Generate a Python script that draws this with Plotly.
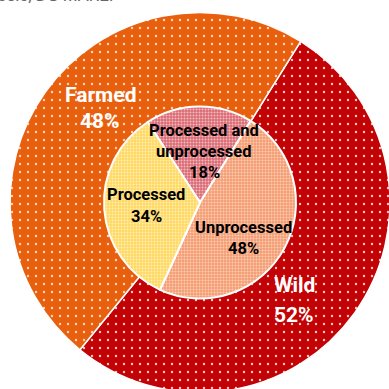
import plotly.graph_objects as go

# Data
outer_labels = ["Wild", "Farmed"]
outer_values = [52, 48]
inner_labels = ["Processed and<br>unprocessed", "Unprocessed", "Processed"]
inner_values = [18, 48, 34]
source_text = "Brussels, DG MARE."

W, H = 391, 394
cx, cy, R = 200, 202.5, 190
r_in = 96

def px_x(x):
    return x / W

def px_y(y):
    return 1 - y / H

outer_colors = ["#C20205", "#E8600E"]
outer_fg = ["#F5CACA", "#FAD5BC"]
inner_colors = ["#DA6A74", "#F49C72", "#FFD862"]
inner_fg = ["#F4BFC3", "#FCD0B8", "#FFF0B5"]

fig = go.Figure()

fig.add_trace(go.Pie(
    labels=outer_labels, values=outer_values, sort=False, direction="clockwise",
    rotation=32, textinfo="none", hoverinfo="label+percent", showlegend=False,
    domain=dict(x=[px_x(cx - R), px_x(cx + R)], y=[px_y(cy + R), px_y(cy - R)]),
    marker=dict(colors=outer_colors,
                line=dict(color="white", width=1.5),
                pattern=dict(shape=".", bgcolor=outer_colors, fgcolor=outer_fg,
                             fillmode="replace", size=8, solidity=0.07)),
))

fig.add_trace(go.Pie(
    labels=inner_labels, values=inner_values, sort=False, direction="clockwise",
    rotation=-33, textinfo="none", hoverinfo="label+percent", showlegend=False,
    domain=dict(x=[px_x(cx - r_in), px_x(cx + r_in)], y=[px_y(cy + r_in), px_y(cy - r_in)]),
    marker=dict(colors=inner_colors,
                line=dict(color="white", width=2),
                pattern=dict(shape=".", bgcolor=inner_colors, fgcolor=inner_fg,
                             fillmode="replace", size=3, solidity=0.35)),
))

# Label positions (pixels): centre x, first-line centre y, line spacing
outer_pos = {"Wild": (294, 285, 30), "Farmed": (100, 95, 26)}
inner_pos = [(204, 130, 21), (243, 228, 21), (146, 194, 22)]

annotations = []

def add_lines(lines, x, y0, dy, size, color):
    for i, line in enumerate(lines):
        annotations.append(dict(
            x=px_x(x), y=px_y(y0 + i * dy), xref="paper", yref="paper",
            xanchor="center", yanchor="middle", showarrow=False,
            text=f"<b>{line}</b>",
            font=dict(family="Roboto", size=size, color=color)))

for lab, val in zip(outer_labels, outer_values):
    x, y, dy = outer_pos[lab]
    add_lines(lab.split("<br>") + [f"{val}%"], x, y, dy, 21, "white")
for lab, val, (x, y, dy) in zip(inner_labels, inner_values, inner_pos):
    add_lines(lab.split("<br>") + [f"{val}%"], x, y, dy, 16.5, "black")

annotations.append(dict(
    x=px_x(115), y=1, xref="paper", yref="paper", xanchor="right", yanchor="bottom",
    yshift=-7, showarrow=False, text=source_text,
    font=dict(family="Roboto", size=17, color="#666666")))

fig.update_layout(
    width=W, height=H, margin=dict(l=0, r=0, t=0, b=0),
    paper_bgcolor="white", plot_bgcolor="white",
    annotations=annotations,
)

fig.write_html("out.html", config={"displayModeBar": False},
               post_script="document.body.style.margin='0';")
